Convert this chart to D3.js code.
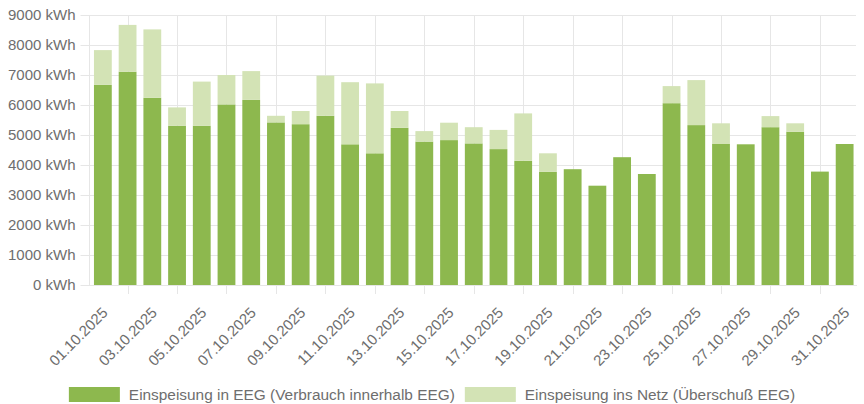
<!DOCTYPE html>
<html>
<head>
<meta charset="utf-8">
<script src="https://cdn.jsdelivr.net/npm/d3@7/dist/d3.min.js"></script>
<style>
  html, body { margin: 0; padding: 0; background: #ffffff; }
  svg { display: block; font-family: "Liberation Sans", Arial, Helvetica, sans-serif; }
</style>
</head>
<body>
<svg id="chart" width="864" height="404"></svg>
<script>
const dates = ["01.10.2025","02.10.2025","03.10.2025","04.10.2025","05.10.2025","06.10.2025","07.10.2025","08.10.2025","09.10.2025","10.10.2025","11.10.2025","12.10.2025","13.10.2025","14.10.2025","15.10.2025","16.10.2025","17.10.2025","18.10.2025","19.10.2025","20.10.2025","21.10.2025","22.10.2025","23.10.2025","24.10.2025","25.10.2025","26.10.2025","27.10.2025","28.10.2025","29.10.2025","30.10.2025","31.10.2025"];
const eegValues = [6670,7110,6240,5310,5310,6020,6170,5420,5360,5640,4690,4390,5240,4780,4830,4720,4530,4140,3770,3860,3310,4260,3700,6060,5330,4700,4690,5260,5110,3780,4700];
const netzValues = [1160,1560,2280,610,1470,980,960,220,440,1340,2070,2330,560,350,580,540,640,1580,620,0,0,0,0,570,1500,690,0,370,280,0,0];
const seriesNames = ["Einspeisung in EEG (Verbrauch innerhalb EEG)", "Einspeisung ins Netz (Überschuß EEG)"];
const seriesColors = ["#8db84e", "#d3e3b5"];
const yTicks = [0,1000,2000,3000,4000,5000,6000,7000,8000,9000];

const svg = d3.select("#chart");
const plotLeft = 90.5, plotRight = 857, plotTop = 15, plotBottom = 285;

const x = d3.scaleBand().domain(dates).range([plotLeft, plotRight]).paddingInner(0).paddingOuter(0);
const y = d3.scaleLinear().domain([0, 9000]).range([plotBottom, plotTop]);
const step = x.step();
const barW = step * 0.72;
const fontSize = 15;
const textColor = "#6e6e6e";
const gridColor = "#e6e6e6";
const fontFam = "'Liberation Sans', Arial, sans-serif";

// horizontal grid + y labels
const yAxis = d3.axisLeft(y).tickValues(yTicks).tickSize(plotRight - plotLeft + 9).tickFormat(d => d + " kWh").tickPadding(5);
const gy = svg.append("g").attr("transform", `translate(${plotRight - 1},0)`).call(yAxis);
gy.select(".domain").remove();
gy.selectAll(".tick line").attr("stroke", gridColor).attr("stroke-width", 1);
gy.selectAll(".tick text").attr("fill", textColor).attr("font-size", fontSize).attr("font-family", fontFam);

// vertical grid lines at odd-indexed category centers (between shown labels)
const shownLabels = dates.filter((d, i) => i % 2 === 0);
const gridDates = dates.filter((d, i) => i % 2 === 1);
svg.append("g").selectAll("line").data(gridDates).join("line")
  .attr("x1", d => Math.round(x(d) + step / 2) + 0.5)
  .attr("x2", d => Math.round(x(d) + step / 2) + 0.5)
  .attr("y1", plotTop).attr("y2", plotBottom + 9)
  .attr("stroke", gridColor).attr("stroke-width", 1);
// y axis line
svg.append("line").attr("x1", plotLeft - 1).attr("x2", plotLeft - 1).attr("y1", plotTop).attr("y2", plotBottom)
  .attr("stroke", gridColor);

// stacked bars
const stack = d3.stack().keys([0, 1]).value((d, k) => k === 0 ? d.eeg : d.netz);
const rows = dates.map((d, i) => ({ date: d, eeg: eegValues[i], netz: netzValues[i] }));
const layers = stack(rows);
svg.append("g").selectAll("g").data(layers).join("g")
  .attr("fill", (d, i) => seriesColors[i])
  .selectAll("rect").data(d => d).join("rect")
  .attr("x", d => x(d.data.date) + (step - barW) / 2)
  .attr("width", barW)
  .attr("y", d => y(d[1]))
  .attr("height", d => Math.max(0, y(d[0]) - y(d[1])));

// baseline
svg.append("line").attr("x1", plotLeft - 9).attr("x2", plotRight).attr("y1", plotBottom + 0.5).attr("y2", plotBottom + 0.5)
  .attr("stroke", gridColor);

// x labels
const xAxis = d3.axisBottom(x).tickValues(shownLabels).tickSize(0).tickPadding(0);
const gx = svg.append("g").attr("transform", `translate(0,${plotBottom})`).call(xAxis);
gx.select(".domain").remove();
gx.selectAll(".tick text")
  .attr("fill", textColor).attr("font-size", fontSize).attr("font-family", fontFam)
  .attr("text-anchor", "end")
  .attr("dy", "0.35em")
  .attr("transform", "translate(2,25) rotate(-45)");

// legend
const legend = svg.append("g");
const boxW = 51, boxH = 15, gapText = 9, gapItem = 10;
const items = legend.selectAll("g").data(seriesNames).join("g");
items.append("rect").attr("width", boxW).attr("height", boxH).attr("fill", (d, i) => seriesColors[i]);
items.append("text").attr("x", boxW + gapText).attr("y", boxH / 2).attr("dy", "0.35em")
  .attr("fill", textColor).attr("font-size", 15.4).attr("font-family", fontFam)
  .text(d => d);
const widths = [];
items.each(function () { widths.push(boxW + gapText + this.querySelector("text").getComputedTextLength()); });
const total = widths.reduce((a, b) => a + b, 0) + gapItem * (widths.length - 1);
let cx = (864 - total) / 2;
items.attr("transform", (d, i) => { const t = `translate(${cx},387)`; cx += widths[i] + gapItem; return t; });
</script>
</body>
</html>
